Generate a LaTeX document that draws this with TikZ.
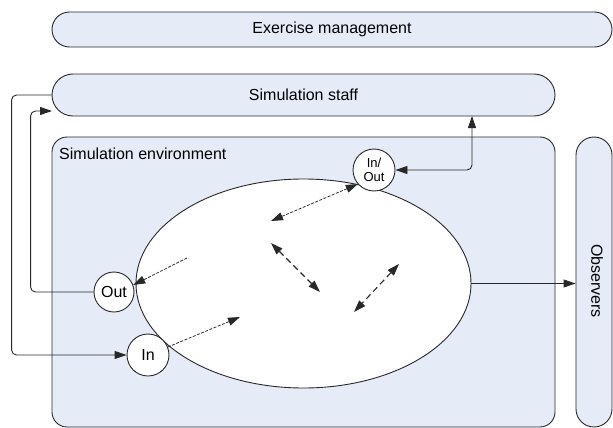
\documentclass[tikz,border=0pt]{standalone}
\usepackage{fontspec}
\setmainfont{Liberation Sans}
\usetikzlibrary{arrows.meta,shapes.geometric}
\definecolor{boxfill}{RGB}{230,236,247}
\definecolor{edge}{RGB}{40,40,40}
\begin{document}
\begin{tikzpicture}[x=1pt,y=-1pt,
  pill/.style={draw=edge,fill=boxfill,line width=0.9pt,inner sep=0pt,
    font=\fontsize{16}{19}\selectfont},
  port/.style={draw=edge,fill=white,circle,line width=0.9pt,inner sep=0pt,
    font=\fontsize{16}{19}\selectfont},
  link/.style={draw=edge,line width=0.9pt,rounded corners=5pt},
  tip/.style={-{Triangle[length=12pt,width=8pt]}},
  bitip/.style={{Triangle[length=12pt,width=8pt]}-{Triangle[length=12pt,width=8pt]}},
  flow/.style={draw=edge,line width=0.75pt,dash pattern=on 3pt off 1.5pt},
  swap/.style={draw=edge,line width=1.1pt,dash pattern=on 6pt off 4pt},
]
\useasboundingbox (0,0) rectangle (613,428);
\clip (0,0) rectangle (613,428);

% management, staff and the two lower panels
\node[pill,rounded corners=17.5pt,minimum width=560pt,minimum height=35pt]
  (mgmt) at (332,29.5) {Exercise management};
\node[pill,rounded corners=21pt,minimum width=503pt,minimum height=42pt]
  (staff) at (303.5,95) {Simulation staff};
\node[pill,rounded corners=15pt,minimum width=503pt,minimum height=290pt]
  (envbox) at (303.5,282) {};
\node[anchor=north west,inner sep=0pt,font=\fontsize{16}{19}\selectfont]
  (envlabel) at (59,148) {Simulation environment};
\node[pill,rounded corners=18pt,minimum width=36pt,minimum height=290pt]
  (obs) at (594,282) {};
\node[rotate=-90,inner sep=0pt,font=\fontsize{16}{19}\selectfont]
  (obslabel) at (597,281) {Observers};

% simulation core
\node[draw=edge,fill=white,ellipse,line width=0.9pt,inner sep=0pt,
  minimum width=335pt,minimum height=209pt] (core) at (303.5,283.5) {};

% ports
\node[port,minimum size=40pt] (out) at (114,292) {Out};
\node[port,minimum size=42pt] (in) at (148,355) {In};
\node[port,minimum size=42pt,align=center,
  font=\fontsize{13}{14}\selectfont] (inout) at (374,170) {In/\\Out};

% external links
\coordinate (stin) at (52,111);
\coordinate (stout) at (472,116);
\draw[link,tip] (staff.west) -- ++(-40,0) |- (in.west);
\draw[link,tip] (out.west) -- ++(-63,0) |- (stin);
\draw[link,bitip] (stout) |- (inout.east);
\draw[link,tip] (core.east) -- (core.east -| obs.west);

% internal exchanges
\coordinate (a1) at (271,221);
\coordinate (a2) at (187,258);
\coordinate (a3) at (240,317);
\coordinate (b1) at (271,243);
\coordinate (b2) at (320,292);
\coordinate (c1) at (399,264);
\coordinate (c2) at (354,312);
\draw[flow,bitip] (inout.221) -- (a1);
\draw[flow,tip] (a2) -- (out.20);
\draw[flow,tip] (in.22) -- (a3);
\draw[swap,bitip] (b1) -- (b2);
\draw[swap,bitip] (c1) -- (c2);
\end{tikzpicture}
\end{document}
